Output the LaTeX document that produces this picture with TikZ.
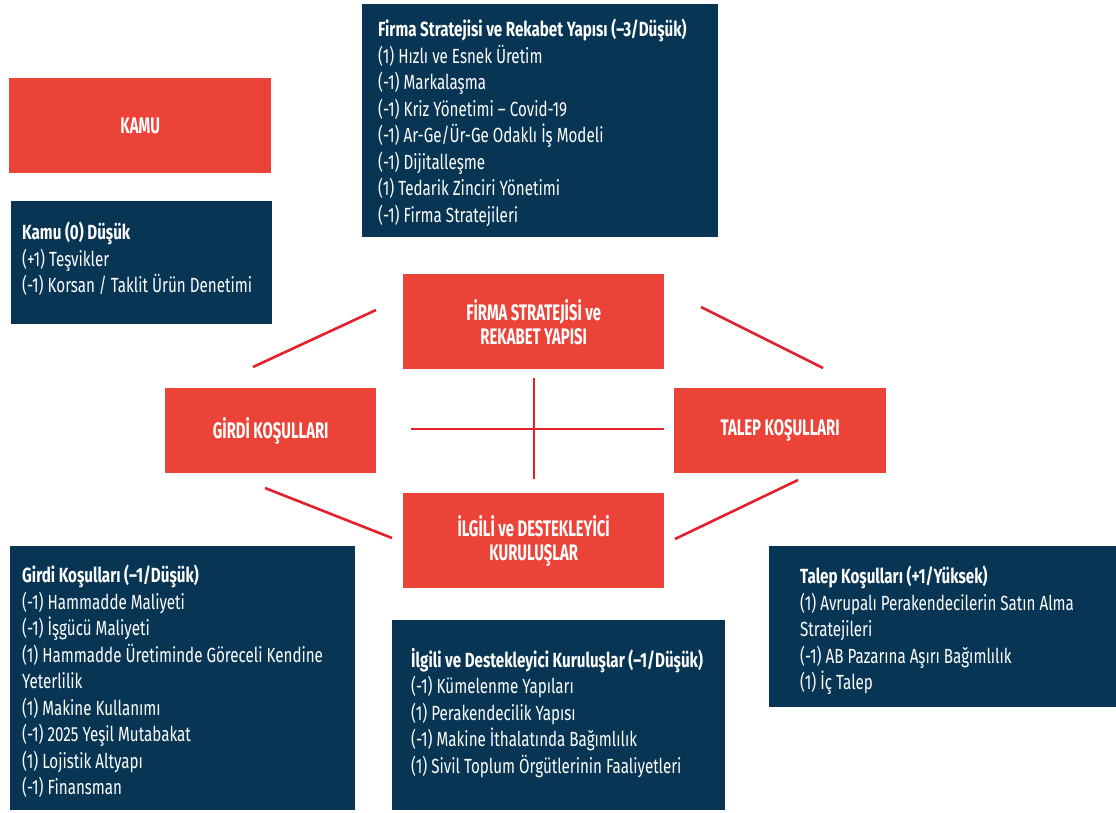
\documentclass[tikz,border=0pt]{standalone}
\usepackage{fontspec}
\setmainfont{Fira Sans}[FakeStretch=0.74]
\newfontfamily\redfam{Fira Sans}[FakeStretch=0.66]
\definecolor{kred}{HTML}{EC4339}
\definecolor{knavy}{HTML}{073553}
\definecolor{klink}{HTML}{E5202A}
\newcommand{\bodyfnt}{\fontsize{20.5}{26.5}\selectfont}
\newcommand{\redfnt}{\redfam\bfseries\fontsize{22.5}{24}\selectfont}
\begin{document}
\begin{tikzpicture}[x=1pt,y=-1pt,
  redbox/.style={fill=kred, draw=none, inner sep=0pt, text=white, font=\redfnt, align=center, anchor=north west},
  navybox/.style={fill=knavy, draw=none, inner sep=0pt, anchor=north west},
  bodytext/.style={text=white, font=\bodyfnt, align=left, anchor=north west, inner sep=0pt},
  link/.style={draw=klink, line width=2.6pt}]
\useasboundingbox (0,0) rectangle (1116,813);

% navy boxes
\node[navybox, minimum width=356pt, minimum height=233pt] (firmaN) at (362,4) {};
\node[navybox, minimum width=261pt, minimum height=123pt] (kamuN) at (11,201) {};
\node[navybox, minimum width=345pt, minimum height=264pt] (girdiN) at (10,546) {};
\node[navybox, minimum width=333pt, minimum height=190pt] (ilgiliN) at (392,620) {};
\node[navybox, minimum width=347pt, minimum height=161pt] (talepN) at (769,546) {};

% red boxes
\node[redbox, minimum width=262pt, minimum height=95pt] (kamuR) at (9,78) {KAMU};
\node[redbox, minimum width=261pt, minimum height=95pt] (firmaR) at (403,274) {FİRMA STRATEJİSİ ve\\REKABET YAPISI};
\node[redbox, minimum width=211pt, minimum height=85pt] (girdiR) at (165,388) {GİRDİ KOŞULLARI};
\node[redbox, minimum width=212pt, minimum height=85pt] (talepR) at (674,388) {TALEP KOŞULLARI};
\node[redbox, minimum width=261pt, minimum height=95pt] (ilgiliR) at (403,493) {İLGİLİ ve DESTEKLEYİCİ\\KURULUŞLAR};

% body texts
\node[bodytext] (firmaT) at (378,19) {\textbf{Firma Stratejisi ve Rekabet Yapısı (–3/Düşük)}\\
(1) Hızlı ve Esnek Üretim\\
(-1) Markalaşma\\
(-1) Kriz Yönetimi – Covid-19\\
(-1) Ar-Ge/Ür-Ge Odaklı İş Modeli\\
(-1) Dijitalleşme\\
(1) Tedarik Zinciri Yönetimi\\
(-1) Firma Stratejileri};

\node[bodytext] (kamuT) at (22,222) {\textbf{Kamu (0) Düşük}\\
(+1) Teşvikler\\
(-1) Korsan / Taklit Ürün Denetimi};

\node[bodytext] (girdiT) at (22,565) {\textbf{Girdi Koşulları (–1/Düşük)}\\
(-1) Hammadde Maliyeti\\
(-1) İşgücü Maliyeti\\
(1) Hammadde Üretiminde Göreceli Kendine\\
Yeterlilik\\
(1) Makine Kullanımı\\
(-1) 2025 Yeşil Mutabakat\\
(1) Lojistik Altyapı\\
(-1) Finansman};

\node[bodytext] (ilgiliT) at (411,648) {\textbf{İlgili ve Destekleyici Kuruluşlar (–1/Düşük)}\\
(-1) Kümelenme Yapıları\\
(1) Perakendecilik Yapısı\\
(-1) Makine İthalatında Bağımlılık\\
(1) Sivil Toplum Örgütlerinin Faaliyetleri};

\node[bodytext] (talepT) at (800,566) {\textbf{Talep Koşulları (+1/Yüksek)}\\
(1) Avrupalı Perakendecilerin Satın Alma\\
Stratejileri\\
(-1) AB Pazarına Aşırı Bağımlılık\\
(1) İç Talep};

% connector segments
\coordinate (tl1) at (376,310); \coordinate (tl2) at (253,367);
\coordinate (tr1) at (701,307); \coordinate (tr2) at (823,368);
\coordinate (bl1) at (265,488); \coordinate (bl2) at (392,538);
\coordinate (br1) at (798,480); \coordinate (br2) at (675,539);
\coordinate (v1) at (534,378); \coordinate (v2) at (534,479);
\coordinate (h1) at (411,429); \coordinate (h2) at (664,429);
\draw[link] (tl1) -- (tl2);
\draw[link] (tr1) -- (tr2);
\draw[link] (bl1) -- (bl2);
\draw[link] (br1) -- (br2);
\draw[link] (v1) -- (v2);
\draw[link] (h1) -- (h2);
\end{tikzpicture}
\end{document}
